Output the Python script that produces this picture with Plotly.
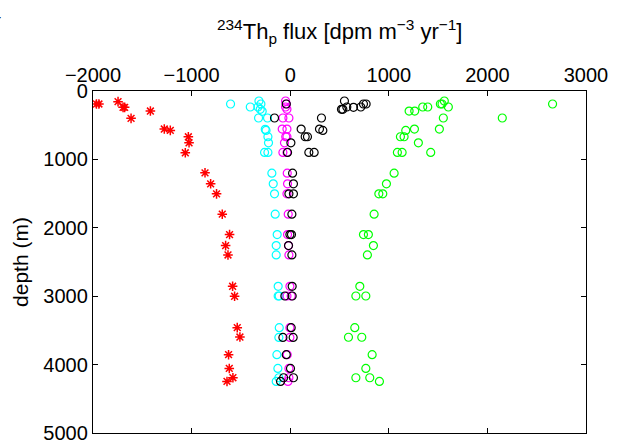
import plotly.graph_objects as go

# Red series (asterisks)
red_x = [-1965, -1940, -1746, -1695, -1679, -1614, -1418, -1277, -1216, -1033, -1026, -1064, -864, -807, -747, -689, -615, -655, -631, -584, -564, -537, -510, -625, -618, -581, -641]
red_y = [190, 190, 156, 239, 239, 400, 293, 556, 576, 669, 757, 903, 1196, 1357, 1504, 1801, 2099, 2260, 2397, 2855, 3001, 3460, 3597, 3855, 4056, 4192, 4246]

cyan_x = [-605, -405, -317, -297, -327, -304, -284, -321, -230, -253, -245, -226, -220, -260, -226, -186, -172, -159, -152, -132, -142, -142, -122, -122, -112, -111, -115, -135, -125, -115, -142]
cyan_y = [190, 234, 146, 190, 234, 268, 297, 395, 395, 561, 576, 669, 757, 898, 898, 1201, 1357, 1504, 1801, 2099, 2260, 2397, 2855, 2997, 2997, 3460, 3602, 3855, 4056, 4192, 4246]

magenta_x = [-47, -40, -47, -33, -74, -13, -81, -33, -45, -33, -58, -74, -33, -30, -27, -33, -20, -27, -17, -13, -3, -33, 10, -3, -3, -30, -13, -13, -23]
magenta_y = [146, 190, 234, 268, 395, 395, 556, 556, 669, 669, 757, 898, 898, 1201, 1357, 1504, 1801, 2099, 2260, 2397, 2855, 2997, 2997, 3460, 3602, 3855, 4056, 4192, 4246]

black_x = [-40, 550, 574, 520, 534, 642, 716, 743, 770, -159, 317, 111, 297, 331, 152, 175, 7, -27, 189, 243, 24, 33, -13, 33, 17, -3, 13, -17, 17, 20, -54, 20, 10, -74, 30, -40, 3, 33, -67, -98]
black_y = [190, 146, 234, 268, 268, 239, 234, 190, 190, 395, 395, 556, 556, 576, 669, 669, 757, 898, 898, 898, 1201, 1357, 1504, 1504, 1801, 2099, 2099, 2260, 2397, 2855, 2997, 2997, 3460, 3602, 3602, 3855, 4056, 4192, 4192, 4246]

green_x = [2661, 2151, 1563, 1523, 1540, 1604, 1344, 1395, 1206, 1263, 1553, 1513, 1172, 1260, 1118, 1155, 1300, 1425, 1087, 1135, 1054, 976, 899, 939, 851, 743, 793, 844, 783, 706, 666, 767, 655, 591, 726, 831, 767, 666, 807, 905]
green_y = [190, 395, 146, 190, 190, 234, 234, 234, 293, 293, 395, 556, 576, 556, 669, 669, 757, 898, 898, 898, 1201, 1357, 1504, 1504, 1801, 2099, 2099, 2260, 2397, 2855, 2997, 2997, 3460, 3600, 3600, 3855, 4056, 4192, 4192, 4246]

x_ticks = [-2000, -1000, 0, 1000, 2000, 3000]
y_ticks = [0, 1000, 2000, 3000, 4000, 5000]

FONT = "Liberation Sans, Arial, sans-serif"

fig = go.Figure()

def circles(x, y, color):
    return go.Scatter(x=x, y=y, mode="markers", showlegend=False,
                      marker=dict(symbol="circle-open", size=8, color=color,
                                  line=dict(width=1.2, color=color)))

fig.add_trace(go.Scatter(x=red_x, y=red_y, mode="markers", showlegend=False,
                         marker=dict(symbol="asterisk-open", size=8, color="#ff0000",
                                     line=dict(width=1.5, color="#ff0000"))))
fig.add_trace(circles(cyan_x, cyan_y, "#00ffff"))
fig.add_trace(circles(magenta_x, magenta_y, "#ff00ff"))
fig.add_trace(circles(black_x, black_y, "#000000"))
fig.add_trace(circles(green_x, green_y, "#00ff00"))

fig.update_layout(
    width=623, height=444,
    margin=dict(l=93, r=37, t=91, b=11),
    paper_bgcolor="white", plot_bgcolor="white",
    font=dict(family=FONT, size=20, color="black"),
    xaxis=dict(
        side="top", range=[-2000, 3000], tickvals=x_ticks,
        ticktext=[("\u2212" + str(abs(v))) if v < 0 else str(v) for v in x_ticks],
        ticks="inside", ticklen=5, tickwidth=1, tickcolor="black",
        showline=True, linecolor="black", linewidth=1.3, mirror="ticks",
        showgrid=False, zeroline=False, automargin=False,
        tickfont=dict(size=20),
    ),
    yaxis=dict(
        range=[5000, 0], tickvals=y_ticks,
        ticks="inside", ticklen=5, tickwidth=1, tickcolor="black",
        showline=True, linecolor="black", linewidth=1.3, mirror="ticks",
        showgrid=False, zeroline=False, automargin=False,
        tickfont=dict(size=20),
        title=dict(text="depth (m)", font=dict(size=21), standoff=8),
    ),
    annotations=[
        dict(text="<sup>234</sup>Th<sub>p</sub> flux [dpm m<sup>\u22123</sup> yr<sup>\u22121</sup>]",
             xref="paper", yref="paper", x=0.5, y=(433 - 32) / 342,
             xanchor="center", yanchor="middle", showarrow=False,
             font=dict(size=22)),
        dict(text="4", xref="paper", yref="paper", x=(3 - 93) / 493, y=(433 - 14) / 342,
             xanchor="right", yanchor="middle", showarrow=False,
             font=dict(size=20)),
    ],
)

fig.write_html("out.html")
